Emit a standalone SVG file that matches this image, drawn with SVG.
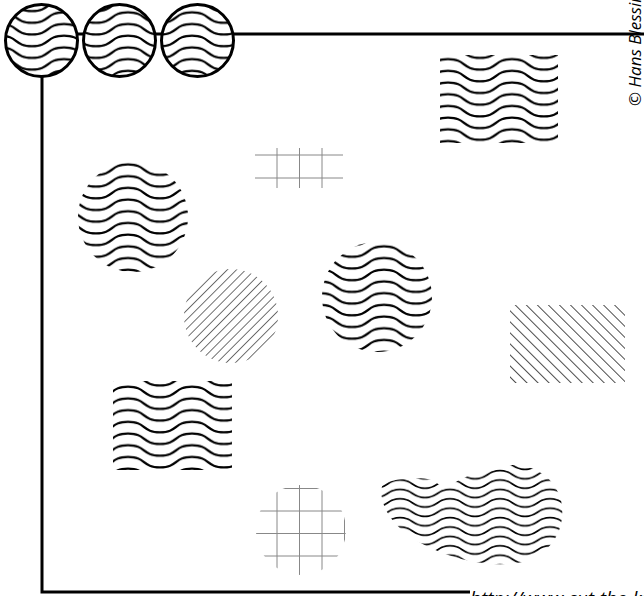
<svg xmlns="http://www.w3.org/2000/svg" width="644" height="596" viewBox="0 0 644 596">
<style>
.frame{fill:none;stroke:#000;stroke-width:3}
.txt{font-family:"Open Sans","DejaVu Sans",sans-serif;font-style:italic;fill:#000}
.grid line{stroke:#888;stroke-width:1}
.w{fill:none;stroke:#000;stroke-width:2.2}
.ws{fill:none;stroke:#000;stroke-width:1.8}
</style>
<defs>
<path id="wp" d="M0 0.6 C18 0.6 14 11.1 32 11.1 S46 0.6 64 0.6"/>
<pattern id="wave" patternUnits="userSpaceOnUse" width="64" height="11.7">
<use href="#wp" class="w"/><use href="#wp" class="w" y="-11.7"/><use href="#wp" class="w" y="11.7"/>
</pattern>
<path id="wps" d="M0 0.6 C14 0.6 11 8.8 25 8.8 S36 0.6 50 0.6"/>
<pattern id="waveS" patternUnits="userSpaceOnUse" width="50" height="9.4">
<use href="#wps" class="ws"/><use href="#wps" class="ws" y="-9.4"/><use href="#wps" class="ws" y="9.4"/>
</pattern>
<pattern id="hatchA" patternUnits="userSpaceOnUse" width="6.5" height="6.5" patternTransform="rotate(45)">
<line x1="0" y1="0" x2="0" y2="6.5" stroke="#333" stroke-width="1.4"/>
</pattern>
<pattern id="hatchB" patternUnits="userSpaceOnUse" width="7.8" height="7.8" patternTransform="rotate(-45)">
<line x1="0" y1="0" x2="0" y2="7.8" stroke="#222" stroke-width="1.6"/>
</pattern>
<clipPath id="g2clip"><circle cx="301" cy="530" r="45"/></clipPath>
</defs>
<rect width="644" height="596" fill="#fff"/>
<g id="frame">
<path class="frame" d="M42 34 H644"/>
<path class="frame" d="M42 77 V592 H470"/>
</g>
<g id="circle1"><circle cx="41.5" cy="40.5" r="36" fill="#fff"/><circle cx="41.5" cy="40.5" r="36" fill="url(#wave)" stroke="#000" stroke-width="3"/></g>
<g id="circle2"><circle cx="119.5" cy="40.5" r="36" fill="#fff"/><circle cx="119.5" cy="40.5" r="36" fill="url(#wave)" stroke="#000" stroke-width="3"/></g>
<g id="circle3"><circle cx="197.5" cy="40.5" r="36" fill="#fff"/><circle cx="197.5" cy="40.5" r="36" fill="url(#wave)" stroke="#000" stroke-width="3"/></g>
<g id="waveRectTop"><rect x="440" y="55" width="118" height="88" fill="url(#wave)"/></g>
<g id="grid1" class="grid">
<line x1="277" y1="148" x2="277" y2="188"/><line x1="299.5" y1="148" x2="299.5" y2="188"/><line x1="322" y1="148" x2="322" y2="188"/>
<line x1="255" y1="155" x2="343" y2="155"/><line x1="255" y1="178" x2="343" y2="178"/>
</g>
<g id="waveCircle1"><circle cx="133" cy="217" r="55" fill="url(#wave)"/></g>
<g id="hatchCircle"><circle cx="231" cy="316" r="47" fill="url(#hatchA)"/></g>
<g id="waveCircle2"><circle cx="377" cy="297" r="55" fill="url(#wave)"/></g>
<g id="hatchRect"><rect x="510" y="305" width="115" height="78" fill="url(#hatchB)"/></g>
<g id="waveRectBottom"><rect x="113" y="381" width="119" height="89" fill="url(#wave)"/></g>
<g id="grid2" class="grid" clip-path="url(#g2clip)">
<line x1="254.5" y1="480" x2="254.5" y2="580"/><line x1="277" y1="480" x2="277" y2="580"/><line x1="299.5" y1="480" x2="299.5" y2="580"/><line x1="322" y1="480" x2="322" y2="580"/><line x1="344.5" y1="480" x2="344.5" y2="580"/>
<line x1="250" y1="488.5" x2="350" y2="488.5"/><line x1="250" y1="511" x2="350" y2="511"/><line x1="250" y1="533.5" x2="350" y2="533.5"/><line x1="250" y1="556" x2="350" y2="556"/>
</g>
<g id="waveBlob"><path d="M383 484 C395 478 420 476 432 480 C440 486 446 488 452 484 C470 474 490 466 510 465 C535 464 555 478 561 500 C566 525 556 548 530 560 C505 568 470 564 440 552 C415 542 395 528 386 510 C381 500 380 490 383 484 Z" fill="url(#waveS)"/></g>
<g id="labels">
<text class="txt" x="0" y="0" font-size="17" transform="translate(641 106) rotate(-90)">© Hans Blessing</text>
<text class="txt" x="470" y="605" font-size="19">http://www.cut-the-knot.org</text>
</g>
</svg>
